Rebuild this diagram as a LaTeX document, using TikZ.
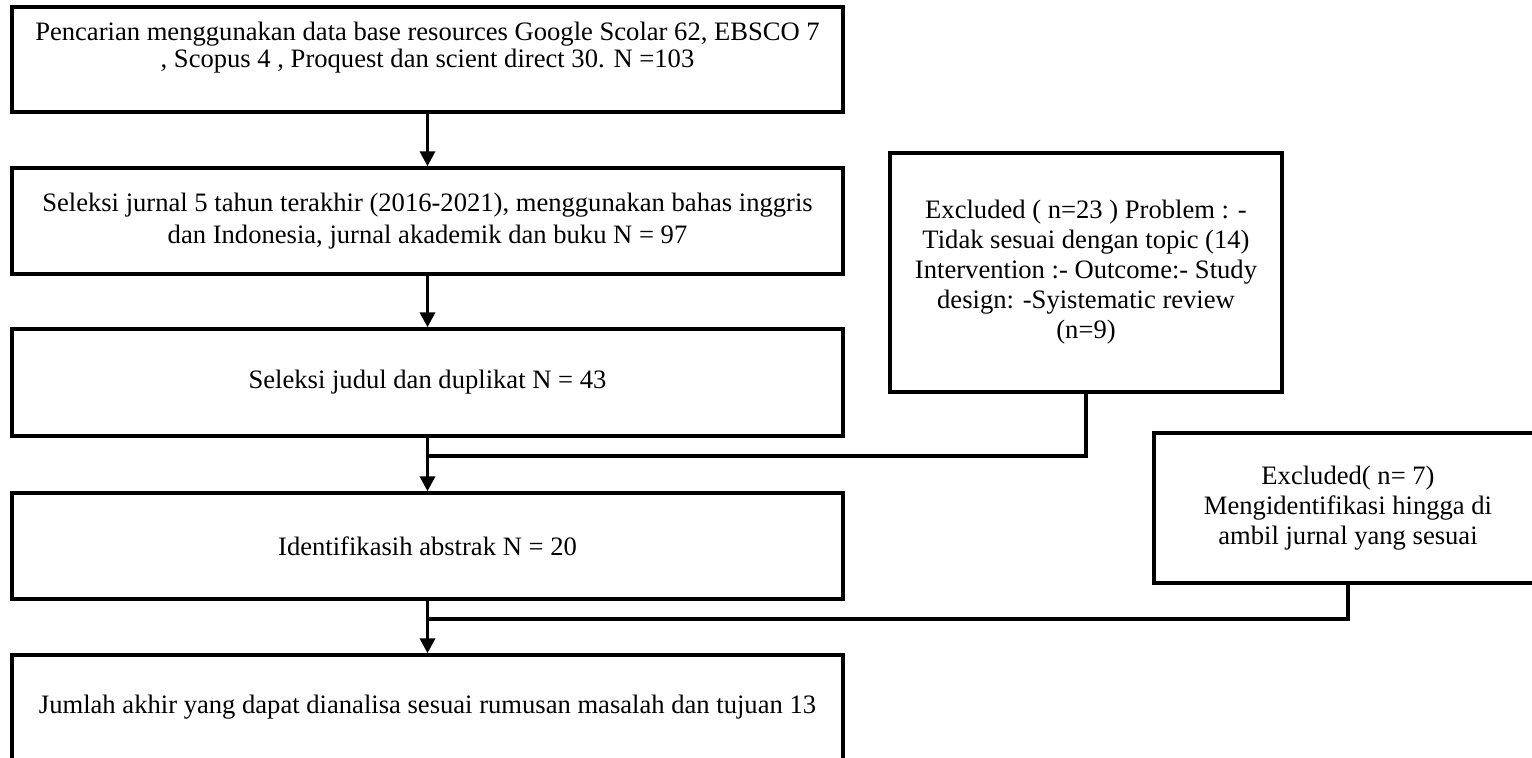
\documentclass[tikz,border=0pt]{standalone}
\usepackage{fontspec}
\setmainfont{Liberation Serif}
\usetikzlibrary{arrows.meta}
\tikzset{
  box/.style={draw=black, line width=1.7pt, fill=white, align=center, inner sep=0pt,
    font=\fontsize{13.3pt}{15pt}\selectfont},
  conn/.style={draw=black, line width=1.7pt},
  arr/.style={conn, -{Triangle[length=7.5pt,width=7.5pt]}}
}
\begin{document}
\begin{tikzpicture}[x=0.5pt,y=-0.5pt]
\useasboundingbox (0,0) rectangle (1532,758);
\clip (0,0) rectangle (1532,758);
\fill[white] (0,0) rectangle (1532,758);
% main column
\node[box, minimum width=415.5pt, minimum height=52.5pt] (b1) at (427.5,59.5)
  {\raisebox{0pt}[\height][\dimexpr\depth+12pt\relax]{\shortstack{Pencarian menggunakan data base resources Google Scolar 62, EBSCO 7\\[-1.5pt] , Scopus 4 , Proquest dan scient direct 30. N =103}}};
\node[box, minimum width=415.5pt, minimum height=53pt, font=\fontsize{13.3pt}{16pt}\selectfont] (b2) at (427.5,221)
  {Seleksi jurnal 5 tahun terakhir (2016-2021), menggunakan bahas inggris\\ dan Indonesia, jurnal akademik dan buku N = 97};
\node[box, minimum width=415.5pt, minimum height=53.5pt] (b3) at (427.5,382.5)
  {Seleksi judul dan duplikat N = 43};
\node[box, minimum width=415.5pt, minimum height=53pt] (b4) at (427.5,546)
  {Identifikasih abstrak N = 20};
\node[box, minimum width=415.5pt, minimum height=52.5pt] (b5) at (427.5,707.5)
  {Jumlah akhir yang dapat dianalisa sesuai rumusan masalah dan tujuan 13};
% side boxes
\node[box, minimum width=196pt, minimum height=119.5pt] (ea) at (1086,272.5)
  {Excluded ( n=23 ) Problem : -\\ Tidak sesuai dengan topic (14)\\ Intervention :- Outcome:- Study\\ design: -Syistematic review\\ (n=9)};
\node[box, minimum width=194pt, minimum height=75pt] (eb) at (1348,508)
  {Excluded( n= 7)\\ Mengidentifikasi hingga di\\ ambil jurnal yang sesuai};
% junction points
\coordinate (j1) at (427.5,456);
\coordinate (j2) at (427.5,619);
% connectors
\draw[arr] (b1.south) -- (b2.north);
\draw[arr] (b2.south) -- (b3.north);
\draw[arr] (b3.south) -- (b4.north);
\draw[arr] (b4.south) -- (b5.north);
\draw[conn] (ea.south) |- (j1);
\draw[conn] (eb.south) |- (j2);
\end{tikzpicture}
\end{document}
